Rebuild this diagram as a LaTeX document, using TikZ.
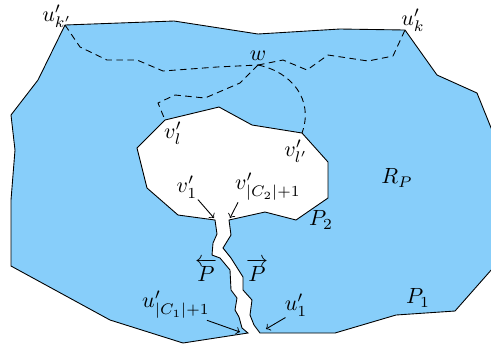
\documentclass[tikz,border=0pt]{standalone}
\usepackage{amsmath}
\usepackage{tikz}
\usetikzlibrary{positioning}
\definecolor{regionblue}{RGB}{135,206,250}

\begin{document}
\begin{tikzpicture}[x=0.455pt,y=-0.455pt,
    walk/.style={dash pattern=on 3pt off 2pt},
    pointer/.style={->,thin},
    tight/.style={inner sep=0.5pt}]
  \useasboundingbox (0,0) rectangle (491,347);
  \clip (0,0) rectangle (491,347);
  % corners that are labelled
  \coordinate (ukp) at (65,25); \coordinate (uk) at (405,30);
  \coordinate (vl) at (165,120); \coordinate (vlp) at (302,133);
  \coordinate (v1) at (214,218); \coordinate (vc) at (230,218);
  \coordinate (uc) at (240,332); \coordinate (u1) at (266,329);
  \coordinate (w) at (258,65);
  % the region R_P, cut along the path P
  \draw[fill=regionblue] (248,333) -- (183,343) -- (110,320) -- (11,266) -- (11,200)
    -- (15,150) -- (11,115) -- (38,80) -- (ukp) -- (174,21) -- (258,34) -- (340,29)
    -- (uk) -- (437,75) -- (477,93) -- (500,150) -- (500,260) -- (455,311) -- (396,315)
    -- (335,333) -- (260,333)
    -- (254,325) -- (250,315) -- (252,300) -- (243,290) -- (243,277) -- (231,258)
    -- (223,248) -- (231,235) -- (229,220)
    -- (265,212) -- (296,220) -- (328,198) -- (328,162) -- (vlp) -- (252,125)
    -- (219,107) -- (vl) -- (137,148) -- (147,188) -- (178,215) -- (215,220)
    -- (217,234) -- (213,243) -- (212,255) -- (220,258) -- (230,270) -- (231,290)
    -- (237,298) -- (235,310) -- (239,317) -- (242,328) -- cycle;
  % walks through w
  \draw[walk] (ukp) -- (80,47) -- (107,60) -- (137,60) -- (163,71) -- (217,67) -- (w);
  \draw[walk] (w) -- (283,60) -- (307,70) -- (328,55) -- (368,61) -- (393,56) -- (uk);
  \draw[walk] (w) -- (240,83) -- (205,98) -- (175,95) -- (158,103) -- (vl);
  \draw[walk] (w) .. controls (292,72) and (314,100) .. (vlp);
  % labels
  \node (ukplab) at (57,16) {$u'_{k'}$};
  \node (uklab) at (413,20) {$u'_k$};
  \node (wlab) at (258,56) {$w$};
  \node (vllab) at (173,133) {$v'_l$};
  \node (vlplab) at (296,151) {$v'_{l'}$};
  \node[tight] (v1lab) at (187,187) {$v'_1$};
  \node[tight] (vclab) at (268,187) {$v'_{|C_2|+1}$};
  \node (rlab) at (397,178) {$R_P$};
  \node (p2lab) at (321,220) {$P_2$};
  \node (pleft) at (206,270) {$\overleftarrow{P}$};
  \node (pright) at (257,270) {$\overrightarrow{P}$};
  \node (p1lab) at (418,298) {$P_1$};
  \node[tight] (uclab) at (176,305) {$u'_{|C_1|+1}$};
  \node[tight] (u1lab) at (296,305) {$u'_1$};
  % pointers
  \draw[pointer] (v1lab) -- (v1);
  \draw[pointer] ([xshift=2pt]vclab.south west) -- (vc);
  \draw[pointer] ([xshift=-2pt]uclab.south east) -- (uc);
  \draw[pointer] ([xshift=1pt]u1lab.south west) -- (u1);
\end{tikzpicture}
\end{document}
